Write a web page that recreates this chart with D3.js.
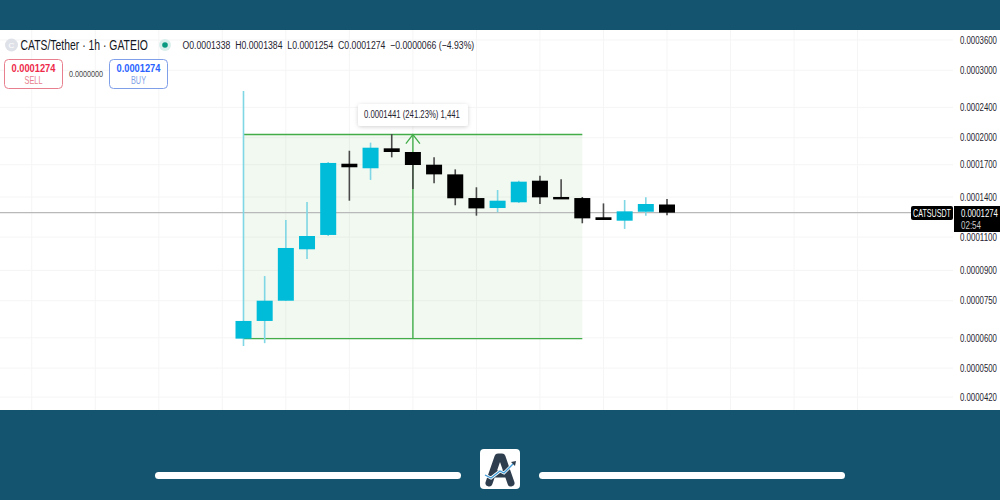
<!DOCTYPE html>
<html>
<head>
<meta charset="utf-8">
<script src="https://cdn.jsdelivr.net/npm/d3@7"></script>
<style>
html, body { margin: 0; padding: 0; background: #fff; }
text { font-family: "Liberation Sans", sans-serif; }
.price-axis text { font-size: 10.2px; fill: #1f2430; }
.price-axis path, .price-axis line { display: none; }
</style>
</head>
<body>
<div id="graph"></div>
<script>
var candleIndex = [0, 1, 2, 3, 4, 5, 6, 7, 8, 9, 10, 11, 12, 13, 14, 15, 16, 17, 18, 19, 20];
var opens  = [5.97, 6.64, 7.50, 10.22, 11.14, 17.10, 16.64, 18.76, 18.35, 17.00, 16.04, 13.91, 13.10, 13.56, 15.44, 14.00, 13.91, 12.39, 12.14, 12.81, 13.38];
var closes = [6.64, 7.50, 10.30, 11.07, 17.18, 16.74, 18.83, 18.35, 16.97, 16.04, 13.89, 13.07, 13.69, 15.35, 13.97, 13.86, 12.31, 12.19, 12.84, 13.42, 12.74];
var highs  = [26.49, 8.70, 12.19, 13.58, 17.28, 18.49, 19.41, 20.45, 18.35, 17.77, 16.53, 14.84, 14.60, 15.44, 15.91, 15.57, 14.00, 13.47, 13.75, 13.97, 13.84];
var lows   = [5.71, 5.81, 7.50, 9.64, 11.07, 13.69, 15.51, 17.77, 14.69, 15.20, 13.32, 12.51, 12.77, 13.50, 13.42, 13.83, 11.95, 12.19, 11.55, 12.51, 12.54];

var priceTicks = [36, 30, 24, 20, 17, 14, 11, 9, 7.5, 6, 5, 4.2];
var timeGrid = [-10, -7, -4, -1, 2, 5, 8, 11, 14, 17, 20, 23, 26, 29];

var lastPrice = 12.74;
var measureFrom = 5.97;
var measureTo = 20.38;
var measureStart = 0;
var measureEnd = 16;
var measureMid = 8;

var headerInfo = 'CATS/Tether · 1h · GATEIO';
var ohlcInfo = 'O0.0001338\u00a0\u00a0H0.0001384\u00a0\u00a0L0.0001254\u00a0\u00a0C0.0001274\u00a0\u00a0−0.0000066 (−4.93%)';
var measureLabel = '0.0001441 (241.23%) 1,441';

var band = '#14546f';
var teal = '#00bcd9';
var green = '#43ad4a';

var width = 1000, height = 500;

var svg = d3.select('#graph')
    .append('svg')
        .attr('width', width)
        .attr('height', height)
        .style('display', 'block');

var defs = svg.append('defs');
var shadow = defs.append('filter').attr('id', 'shadow')
    .attr('x', '-20%').attr('y', '-40%').attr('width', '140%').attr('height', '180%');
shadow.append('feDropShadow')
    .attr('dx', 0).attr('dy', 1).attr('stdDeviation', 2)
    .attr('flood-color', '#000').attr('flood-opacity', 0.18);

var x = d3.scaleLinear().domain([0, 20]).range([243.5, 667]);
var y = d3.scaleLog().domain([36, 6]).range([40, 337.8]);

// the original font is condensed, so squeeze text sideways to its measured width
function label(px, py, str, size, color, len, anchor) {
    var t = svg.append('text')
        .attr('font-size', size)
        .attr('fill', color)
        .attr('text-anchor', anchor || 'start')
        .text(str);
    var sx = len / t.node().getComputedTextLength();
    t.attr('transform', 'translate(' + px + ',' + py + ') scale(' + sx + ',1)');
    return t;
}

// GRID -----------------------------------------------------------------------
svg.append('g').selectAll('line')
    .data(priceTicks).enter().append('line')
    .attr('x1', 0).attr('x2', 953)
    .attr('y1', function(d) { return y(d); })
    .attr('y2', function(d) { return y(d); })
    .attr('stroke', '#f5f5f5').attr('stroke-width', 1);
svg.append('g').selectAll('line')
    .data(timeGrid).enter().append('line')
    .attr('x1', function(d) { return x(d); })
    .attr('x2', function(d) { return x(d); })
    .attr('y1', 30).attr('y2', 410)
    .attr('stroke', '#f5f5f5').attr('stroke-width', 1);

// MEASURE BOX ----------------------------------------------------------------
svg.append('rect')
    .attr('x', x(measureStart))
    .attr('y', y(measureTo))
    .attr('width', x(measureEnd) - x(measureStart))
    .attr('height', y(measureFrom) - y(measureTo))
    .attr('fill', '#4caf50').attr('fill-opacity', 0.08);

// last price line
svg.append('line')
    .attr('x1', 0).attr('x2', 912)
    .attr('y1', y(lastPrice)).attr('y2', y(lastPrice))
    .attr('stroke', '#b9b9b9').attr('stroke-width', 1.4);

[measureFrom, measureTo].forEach(function(v) {
    svg.append('line')
        .attr('x1', x(measureStart)).attr('x2', x(measureEnd))
        .attr('y1', y(v)).attr('y2', y(v))
        .attr('stroke', green).attr('stroke-width', 1.4);
});
svg.append('line')
    .attr('x1', x(measureMid)).attr('x2', x(measureMid))
    .attr('y1', y(measureFrom)).attr('y2', y(measureTo))
    .attr('stroke', green).attr('stroke-width', 1.4);
svg.append('path')
    .attr('d', 'M' + (x(measureMid) - 7) + ',' + (y(measureTo) + 9) +
        'L' + x(measureMid) + ',' + y(measureTo) +
        'L' + (x(measureMid) + 7) + ',' + (y(measureTo) + 9))
    .attr('fill', 'none').attr('stroke', green).attr('stroke-width', 1.3);

// CANDLES --------------------------------------------------------------------
var candles = candleIndex.map(function(i) {
    return { i: i, o: opens[i], c: closes[i], h: highs[i], l: lows[i] };
});
function isUp(d) { return d.c >= d.o; }

svg.append('g').selectAll('line')
    .data(candles).enter().append('line')
    .attr('x1', function(d) { return x(d.i); })
    .attr('x2', function(d) { return x(d.i); })
    .attr('y1', function(d) { return y(d.h); })
    .attr('y2', function(d) { return y(d.l); })
    .attr('stroke', function(d) { return isUp(d) ? '#7fd6e4' : '#4a4a4a'; })
    .attr('stroke-width', 1.6);
svg.append('g').selectAll('rect')
    .data(candles).enter().append('rect')
    .attr('x', function(d) { return x(d.i) - 8; })
    .attr('width', 16)
    .attr('y', function(d) { return y(Math.max(d.o, d.c)); })
    .attr('height', function(d) { return Math.max(2.4, Math.abs(y(d.o) - y(d.c))); })
    .attr('fill', function(d) { return isUp(d) ? teal : '#000'; });

// measure label
svg.append('rect')
    .attr('x', 358).attr('y', 104).attr('width', 110).attr('height', 22).attr('rx', 3)
    .attr('fill', '#fff').attr('filter', 'url(#shadow)');
label(364, 118, measureLabel, 11, '#1f2430', 96);

// PRICE AXIS -----------------------------------------------------------------
svg.append('g')
    .attr('class', 'price-axis')
    .attr('transform', 'translate(953,0)')
    .call(d3.axisRight(y)
        .tickValues(priceTicks)
        .tickSize(0)
        .tickPadding(7)
        .tickFormat(function(d) { return d3.format('.7f')(d / 100000); }));
svg.selectAll('.price-axis text').each(function() {
    var sx = 37 / this.getComputedTextLength();
    d3.select(this).attr('x', 0).attr('transform', 'translate(7,0) scale(' + sx + ',1)');
});

svg.append('rect')
    .attr('x', 911).attr('y', 206).attr('width', 42).attr('height', 14).attr('rx', 2).attr('fill', '#000');
label(913, 216.8, 'CATSUSDT', 10.2, '#fff', 38);
svg.append('rect')
    .attr('x', 954).attr('y', 206).attr('width', 46).attr('height', 26).attr('fill', '#000');
label(961, 216.8, d3.format('.7f')(lastPrice / 100000), 10.2, '#fff', 37);
label(961, 229, '02:54', 10.2, '#c8c8c8', 20);

// HEADER ---------------------------------------------------------------------
svg.append('circle').attr('cx', 11.5).attr('cy', 45).attr('r', 6.5).attr('fill', '#dfe1e8');
svg.append('text').attr('x', 11.5).attr('y', 48).attr('text-anchor', 'middle')
    .attr('font-size', 8).attr('fill', '#fff').text('C');
label(20.5, 50, headerInfo, 14, '#131722', 127.5);
svg.append('circle').attr('cx', 165).attr('cy', 45).attr('r', 6).attr('fill', '#d9efec');
svg.append('circle').attr('cx', 165).attr('cy', 45).attr('r', 2.8).attr('fill', '#089981');
label(182.5, 49, ohlcInfo, 11, '#1f2430', 292);

function tradeBox(bx, color, light, name, nameLen) {
    svg.append('rect')
        .attr('x', bx).attr('y', 59.5).attr('width', 58).attr('height', 29).attr('rx', 4)
        .attr('fill', '#fff').attr('stroke', light).attr('stroke-width', 1);
    label(bx + 29, 72, '0.0001274', 11, color, 44, 'middle').attr('font-weight', 700);
    label(bx + 29, 84, name, 10, light, nameLen, 'middle');
}
tradeBox(4.5, '#ee2a4a', '#e87f8e', 'SELL', 18);
tradeBox(109.5, '#2962ff', '#7f9fe8', 'BUY', 15);
label(86, 77, '0.0000000', 9.2, '#444', 34, 'middle');

// BANDS ----------------------------------------------------------------------
svg.append('rect').attr('x', 0).attr('y', 0).attr('width', width).attr('height', 30).attr('fill', band);
svg.append('rect').attr('x', 0).attr('y', 410).attr('width', width).attr('height', 90).attr('fill', band);
svg.append('rect').attr('x', 155).attr('y', 472).attr('width', 306).attr('height', 7).attr('rx', 3.5).attr('fill', '#fff');
svg.append('rect').attr('x', 539).attr('y', 472).attr('width', 306).attr('height', 7).attr('rx', 3.5).attr('fill', '#fff');

// logo
var logo = svg.append('g').attr('transform', 'translate(480,449)');
logo.append('rect').attr('width', 40).attr('height', 40).attr('rx', 4).attr('fill', '#fff');
logo.append('path')
    .attr('d', 'M9,34L18,8L22,8L31,34M13,25L27,25')
    .attr('fill', 'none').attr('stroke', '#2f3e4f').attr('stroke-width', 7)
    .attr('stroke-linecap', 'round').attr('stroke-linejoin', 'round');
logo.append('path')
    .attr('d', 'M5,26L11,29L20,22L24,24L34,14')
    .attr('fill', 'none').attr('stroke', '#fff').attr('stroke-width', 3);
logo.append('path')
    .attr('d', 'M5,26L11,29L20,22L24,24L34,14')
    .attr('fill', 'none').attr('stroke', '#3d9ad6').attr('stroke-width', 1.3);
logo.append('path').attr('d', 'M31,13L36,12L35,17Z').attr('fill', '#2f3e4f');
</script>
</body>
</html>
